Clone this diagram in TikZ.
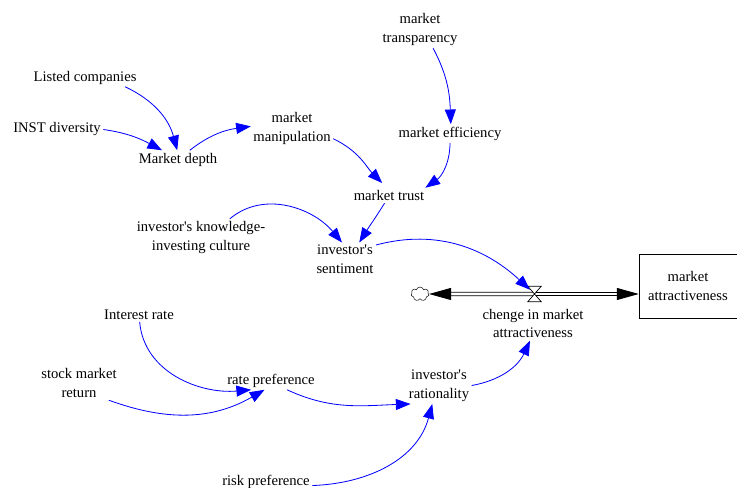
\documentclass[tikz,border=0pt]{standalone}
\usepackage{fontspec}
\setmainfont{Liberation Serif}
\usepackage{xcolor}
\usetikzlibrary{arrows.meta,shapes.symbols}
\definecolor{linkblue}{RGB}{0,0,255}

\begin{document}
\begin{tikzpicture}[x=0.03cm, y=0.03cm,
    every node/.style={font=\fontsize{12.5}{16.2}\selectfont, align=center, inner sep=2pt},
    link/.style={-{Triangle[length=0.44cm, width=0.33cm]}, linkblue, line width=0.7pt},
    pipe/.style={-{Triangle[length=0.66cm, width=0.36cm]}, black, line width=0.7pt, double=white, double distance=0.08cm}]
    \useasboundingbox (0,0) rectangle (737,488);

    % Upper variables
    \node (listed) at (85,410.5) {Listed companies};
    \node (inst) at (57,358.5) {INST diversity};
    \node (depth) at (178,328.5) {Market depth};
    \node (manip) at (292,359.5) {market\\manipulation};
    \node (transp) at (420,458.5) {market\\transparency};
    \node (effic) at (450,354.5) {market efficiency};
    \node (trust) at (389,292.5) {market trust};
    \node (know) at (201,250.5) {investor\textquotesingle s knowledge-\\investing culture};
    \node (senti) at (345,228.5) {investor\textquotesingle s\\sentiment};

    % Lower variables
    \node (interest) at (139,173.5) {Interest rate};
    \node (return) at (79,105) {stock market\\return};
    \node (rate) at (271,107.5) {rate preference};
    \node (ration) at (439,102.5) {investor\textquotesingle s\\rationality};
    \node (risk) at (266,6.5) {risk preference};

    % Stock and flow
    \node[draw, minimum width=2.94cm, minimum height=1.92cm] (stock) at (688,202) {market\\attractiveness};
    \node[draw, cloud, cloud puffs=7, aspect=1.2, inner sep=0pt, minimum width=0.54cm, minimum height=0.42cm] (source) at (420,194) {};
    \node[minimum width=0.39cm, minimum height=0.45cm, inner sep=0pt] (valve) at (534.5,194) {};
    \node (flow) at (533,164.5) {chenge in market\\attractiveness};

    \draw[pipe] (valve.center) -- (valve -| stock.west);
    \draw[pipe] (valve.center) -- (source.east);
    \filldraw[fill=white, line width=0.6pt] (valve.north west) -- (valve.north east) -- (valve.south west) -- (valve.south east) -- cycle;

    % Links
    \draw[link] (listed.-13) to[out=-25, in=105] (depth.95);
    \draw[link] (inst.0) to[out=-8, in=152] (depth.150);
    \draw[link] (depth.38) to[out=38, in=188] (manip.177);
    \draw[link, shorten >=0.2cm] (manip.-14) to[out=-25, in=135] (trust.105);
    \draw[link] (transp.-55) to[out=-62, in=92] (effic.85);
    \draw[link] (effic.-90) to[out=-90, in=35] (trust.12);
    \draw[link] (trust.-120) to[out=-122, in=58] (senti.50);
    \draw[link] (know.33) to[out=40, in=130] (senti.100);
    \draw[link, shorten >=0.19cm] (senti.25) to[out=15, in=137] (valve.center);
    \draw[link] (interest.-85) to[out=-85, in=185] (rate.-155);
    \draw[link] (return.-30) to[out=-20, in=210] (rate.-125);
    \draw[link] (rate.-30) to[out=-25, in=182] (ration.-147);
    \draw[link] (risk.-5) to[out=2, in=-105] (ration.-110);
    \draw[link] (ration.0) to[out=10, in=-115] (flow.-100);
\end{tikzpicture}
\end{document}
